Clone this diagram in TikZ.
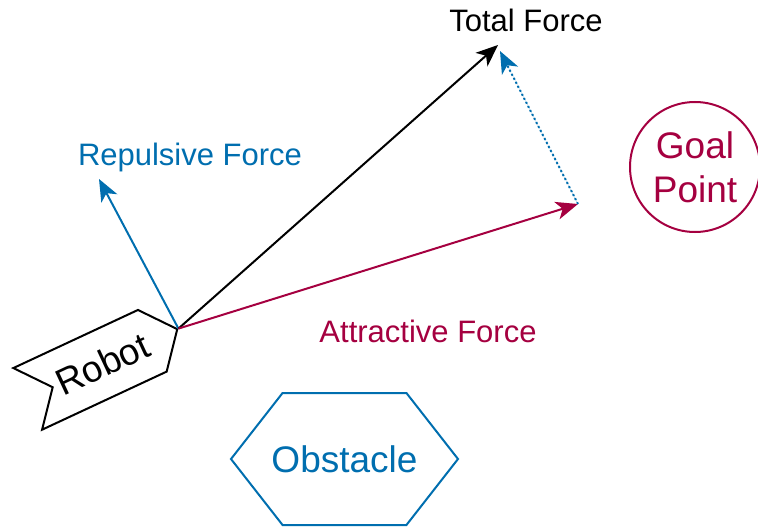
\documentclass[tikz,border=0pt]{standalone}
\usepackage{fontspec}
\setmainfont{Liberation Sans}
\usepackage{xcolor}
\usetikzlibrary{arrows.meta,shapes.symbols,shapes.geometric}
\definecolor{fblue}{HTML}{006EAF}
\definecolor{fred}{HTML}{A50040}

\begin{document}
\begin{tikzpicture}[x=1pt,y=-1pt,
  every node/.style={font=\fontsize{31}{37}\selectfont},
  big/.style={font=\fontsize{37}{44}\selectfont},
  lbl/.style={anchor=base,inner sep=0pt},
  vec/.style={line width=2pt,-{Stealth[length=22pt,width=18pt,inset=6pt]}}]
 \useasboundingbox (0,0) rectangle (758,527);
 % shapes
 \node[big,draw,line width=2pt,signal,signal from=west,signal to=east,
   signal pointer angle=102,minimum width=165pt,minimum height=68pt,
   inner sep=0pt,rotate=25] (robot) at (102.5,364) {Robot};
 \node[draw=fblue,line width=2pt,signal,signal to=west and east,
   signal pointer angle=104,minimum width=227pt,minimum height=132pt,
   inner sep=0pt,label={[big,text=fblue]center:Obstacle}] (obst) at (344.5,459) {};
 \node[big,draw=fred,text=fred,line width=2pt,circle,minimum size=130pt,
   inner sep=0pt,align=center] (goal) at (695,167) {Goal\\Point};
 % vector ends
 \coordinate (rep) at (99,179);
 \coordinate (tot) at (498,45);
 \coordinate (att) at (578,204);
 \coordinate (dot) at (500,51);
 \foreach \c/\e in {fblue/rep,black/tot,fred/att}
   \draw[vec,draw=\c,fill=\c] (robot.east) -- (\e);
 \draw[vec,draw=fblue,fill=fblue,dash pattern=on 2pt off 2.5pt] (att) -- (dot);
 % labels
 \node[lbl] (ltot) at (526,32) {Total Force};
 \node[lbl,text=fblue] (lrep) at (190,165) {Repulsive Force};
 \node[lbl,text=fred] (latt) at (428,342) {Attractive Force};
\end{tikzpicture}
\end{document}
